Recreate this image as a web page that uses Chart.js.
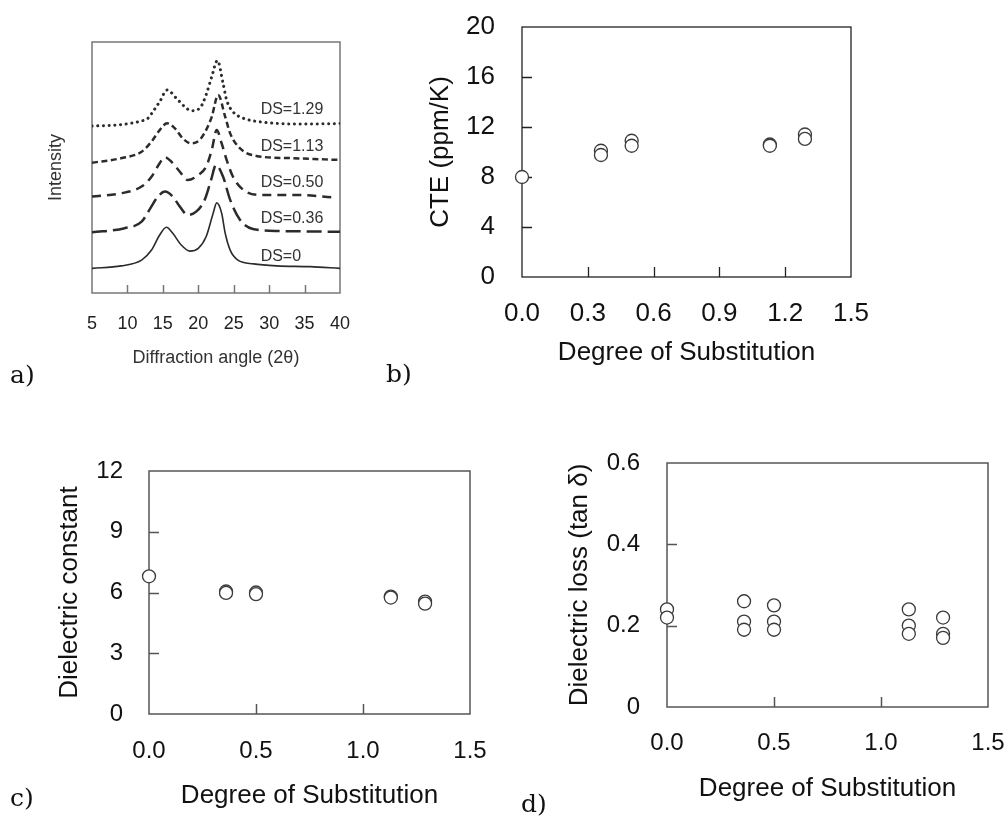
<!DOCTYPE html>
<html>
<head>
<meta charset="utf-8">
<script src="https://cdn.jsdelivr.net/npm/chart.js@4.4.1/dist/chart.umd.min.js"></script>
<style>
  html, body { margin: 0; padding: 0; background: #fff; }
  body { width: 1004px; height: 817px; position: relative; overflow: hidden; }
  canvas { position: absolute; }
  .tag { position: absolute; font-family: 'DejaVu Serif', serif; font-size: 25px; line-height: 25px; color: #111; }
</style>
</head>
<body>
<canvas id="xrd" width="370" height="380" style="left:0;top:0"></canvas>
<canvas id="cte" width="490" height="380" style="left:380px;top:0"></canvas>
<canvas id="dk" width="500" height="417" style="left:0;top:400px"></canvas>
<canvas id="loss" width="504" height="417" style="left:500px;top:400px"></canvas>
<div class="tag" style="left:10px;top:362px">a)</div>
<div class="tag" style="left:386px;top:361px">b)</div>
<div class="tag" style="left:10px;top:785px">c)</div>
<div class="tag" style="left:521px;top:791px">d)</div>
<script>
// XRD patterns (2θ, intensity in arbitrary units, offset per sample)
const dsNames = ['DS=1.29', 'DS=1.13', 'DS=0.50', 'DS=0.36', 'DS=0'];

const ds0Angle = [5, 9.1, 12.0, 13.4, 14.55, 15.5, 16.4, 17.6, 18.8, 20.0, 21.1, 22.1, 22.6, 23.3, 23.8, 24.5, 25.6, 27.8, 31.1, 35.8, 40];
const ds0Int = [9.8, 10.8, 13.1, 17.1, 23.1, 26.2, 23.8, 19.1, 16.7, 17.8, 22.4, 31.8, 35.9, 31.8, 23.8, 17.1, 13.1, 11.6, 10.8, 10.5, 9.8];

const ds036Angle = [5, 9.6, 12.0, 13.1, 14.3, 15.3, 16.4, 17.4, 18.5, 19.7, 20.9, 21.8, 22.5, 23.5, 24.5, 25.9, 27.7, 31.5, 40];
const ds036Int = [24.2, 25.8, 28.4, 33.1, 38.4, 40.4, 38.4, 34.4, 31.1, 32.4, 37.1, 45.0, 51.0, 46.3, 37.1, 29.1, 25.5, 24.7, 24.4];

const ds050Angle = [5, 9.1, 12.0, 13.4, 14.55, 15.3, 16.2, 17.4, 18.5, 20.0, 21.1, 21.9, 22.6, 23.3, 24.0, 24.9, 26.4, 29.2, 34.4, 38.9];
const ds050Int = [38.4, 39.7, 42.4, 46.3, 51.7, 54.1, 52.3, 48.3, 45.0, 47.0, 50.3, 57.0, 64.9, 59.6, 53.0, 46.3, 41.0, 39.0, 39.0, 38.1];

const ds113Angle = [5, 9.1, 12.0, 13.4, 14.55, 15.6, 16.7, 17.8, 19.0, 20.2, 21.1, 21.9, 22.8, 23.8, 24.5, 25.9, 28.2, 33.4, 40];
const ds113Int = [51.9, 53.7, 56.3, 60.3, 64.9, 67.6, 65.6, 61.6, 59.6, 61.0, 64.9, 70.2, 78.9, 70.2, 63.6, 57.6, 54.6, 53.7, 53.0];

const ds129Angle = [5, 9.1, 11.9, 12.9, 13.75, 14.55, 15.6, 16.9, 18.1, 19.0, 20.2, 21.1, 21.9, 22.7, 23.5, 24.0, 24.9, 26.4, 28.7, 34.4, 40];
const ds129Int = [66.5, 67.1, 68.5, 69.6, 72.9, 76.2, 80.9, 77.6, 74.2, 72.6, 73.6, 78.9, 86.2, 92.6, 83.5, 76.9, 72.2, 69.6, 68.2, 67.3, 67.5];

// CTE vs degree of substitution
const cteDS = [0, 0.36, 0.36, 0.50, 0.50, 1.13, 1.13, 1.29, 1.29];
const cteVal = [8.0, 10.1, 9.76, 10.9, 10.5, 10.6, 10.5, 11.4, 11.05];

// dielectric constant
const dkDS = [0, 0.36, 0.36, 0.50, 0.50, 1.13, 1.13, 1.29, 1.29];
const dkVal = [6.8, 6.05, 5.98, 6.0, 5.92, 5.8, 5.75, 5.55, 5.45];

// dielectric loss (tan δ)
const lossDS = [0, 0, 0.36, 0.36, 0.36, 0.50, 0.50, 0.50, 1.13, 1.13, 1.13, 1.29, 1.29, 1.29];
const lossVal = [0.24, 0.22, 0.26, 0.21, 0.19, 0.25, 0.21, 0.19, 0.24, 0.20, 0.18, 0.22, 0.18, 0.17];

// tick labels
const xrdTicks = [5, 10, 15, 20, 25, 30, 35, 40];
const degTicksB = [0, 0.3, 0.6, 0.9, 1.2, 1.5];
const degTicksCD = [0, 0.5, 1.0, 1.5];
const cteTicks = [0, 4, 8, 12, 16, 20];
const dkTicks = [0, 3, 6, 9, 12];
const lossTicks = [0, 0.2, 0.4, 0.6];

const SANS = "Arial, 'Liberation Sans', sans-serif";
const zip = (xs, ys) => xs.map((x, i) => ({ x, y: ys[i] }));

// closed frame plus short inward tick marks
const boxPlugin = {
  id: 'box',
  beforeDatasetsDraw(chart, args, opts) {
    const { ctx, chartArea: a, scales } = chart;
    ctx.save();
    ctx.strokeStyle = opts.color;
    ctx.lineWidth = opts.width;
    ctx.strokeRect(a.left, a.top, a.right - a.left, a.bottom - a.top);
    ctx.beginPath();
    (opts.xMarks || []).forEach(v => {
      const px = Math.round(scales.x.getPixelForValue(v)) + 0.5;
      ctx.moveTo(px, a.bottom);
      ctx.lineTo(px, a.bottom - opts.len);
    });
    (opts.yMarks || []).forEach(v => {
      const py = Math.round(scales.y.getPixelForValue(v)) + 0.5;
      ctx.moveTo(a.left, py);
      ctx.lineTo(a.left + opts.len, py);
    });
    ctx.stroke();
    ctx.restore();
  }
};

// series names written next to each XRD trace
const tagPlugin = {
  id: 'tags',
  afterDatasetsDraw(chart, args, opts) {
    if (!opts.names) return;
    const { ctx, scales } = chart;
    ctx.save();
    ctx.font = opts.font;
    ctx.fillStyle = opts.color;
    ctx.textBaseline = 'middle';
    opts.names.forEach((t, i) => {
      ctx.fillText(t, scales.x.getPixelForValue(opts.x), scales.y.getPixelForValue(opts.y[i]));
    });
    ctx.restore();
  }
};

Chart.register(boxPlugin, tagPlugin);

function axes(o) {
  return {
    x: {
      type: 'linear', min: o.xMin, max: o.xMax,
      grid: { display: false, drawTicks: false },
      border: { display: false },
      afterBuildTicks: s => { s.ticks = o.xTicks.map(v => ({ value: v })); },
      ticks: {
        padding: o.xPad, color: o.tickColor, maxRotation: 0, autoSkip: false,
        font: { family: SANS, size: o.xFont }, callback: o.xFmt
      },
      title: {
        display: true, text: o.xTitle, color: o.titleColor,
        font: { family: SANS, size: o.titleFont }, padding: { top: 0, bottom: o.xTitlePad }
      },
      afterFit: s => { s.height = o.xH; s.paddingLeft = 0; s.paddingRight = 0; }
    },
    y: {
      type: 'linear', min: o.yMin, max: o.yMax,
      grid: { display: false, drawTicks: false },
      border: { display: false },
      afterBuildTicks: s => { s.ticks = o.yTicks.map(v => ({ value: v })); },
      ticks: {
        display: o.yTickShow !== false, padding: o.yPad, color: o.tickColor,
        font: { family: SANS, size: o.yFont }, callback: o.yFmt
      },
      title: {
        display: true, text: o.yTitle, color: o.titleColor,
        font: { family: SANS, size: o.yTitleFont || o.titleFont }, padding: { top: o.yTitlePad, bottom: 0 }
      },
      afterFit: s => { s.width = o.yW; s.paddingTop = 0; s.paddingBottom = 0; }
    }
  };
}

const base = { responsive: false, animation: false, events: [] };
const noLegend = { legend: { display: false }, tooltip: { enabled: false } };

function circles(xs, ys) {
  return [{
    data: zip(xs, ys),
    pointStyle: 'circle', pointRadius: 6.5, pointBorderWidth: 1.3,
    pointBackgroundColor: '#fff', pointBorderColor: '#3a3a3a',
    showLine: false, clip: false
  }];
}

// a) XRD
const traceStyle = { showLine: true, pointRadius: 0, borderColor: '#2b2b2b', cubicInterpolationMode: 'monotone', borderWidth: 2.5, fill: false };
new Chart(document.getElementById('xrd'), {
  type: 'scatter',
  data: {
    datasets: [
      { ...traceStyle, data: zip(ds129Angle, ds129Int), borderDash: [0.1, 5.6], borderCapStyle: 'round', borderWidth: 3 },
      { ...traceStyle, data: zip(ds113Angle, ds113Int), borderDash: [6, 3.5] },
      { ...traceStyle, data: zip(ds050Angle, ds050Int), borderDash: [9, 6] },
      { ...traceStyle, data: zip(ds036Angle, ds036Int), borderDash: [15, 6] },
      { ...traceStyle, data: zip(ds0Angle, ds0Int), borderWidth: 1.6 }
    ]
  },
  options: {
    ...base,
    layout: { padding: { top: 42, right: 30, left: 0, bottom: 0 } },
    scales: axes({
      xMin: 5, xMax: 40, xTicks: xrdTicks, xPad: 20, xFont: 18, xFmt: v => String(v),
      xTitle: 'Diffraction angle (2θ)', xTitlePad: 11, xH: 87,
      yMin: 0, yMax: 100, yTicks: [], yTickShow: false, yFont: 18, yPad: 0,
      yTitle: 'Intensity', yTitlePad: 45, yW: 92,
      tickColor: '#222', titleColor: '#333', titleFont: 18
    }),
    plugins: {
      ...noLegend,
      box: { color: '#777', width: 1.5, len: 8, xMarks: [10, 15, 20, 25, 30, 35] },
      tags: { names: dsNames, x: 28.8, y: [72.9, 58.2, 43.8, 29.5, 14.7], font: '16px ' + SANS, color: '#333' }
    }
  }
});

// b) CTE
new Chart(document.getElementById('cte'), {
  type: 'scatter',
  data: { datasets: circles(cteDS, cteVal) },
  options: {
    ...base,
    layout: { padding: { top: 27, right: 19, left: 0, bottom: 0 } },
    scales: axes({
      xMin: 0, xMax: 1.5, xTicks: degTicksB, xPad: 21, xFont: 26, xFmt: v => v.toFixed(1),
      xTitle: 'Degree of Substitution', xTitlePad: 12, xH: 103,
      yMin: 0, yMax: 20, yTicks: cteTicks, yFont: 26, yPad: 27, yFmt: v => String(v),
      yTitle: 'CTE (ppm/K)', yTitlePad: 45, yW: 142,
      tickColor: '#111', titleColor: '#111', titleFont: 26
    }),
    plugins: {
      ...noLegend,
      box: { color: '#222', width: 1.3, len: 10, xMarks: [0.3, 0.6, 0.9, 1.2], yMarks: [4, 8, 12, 16] }
    }
  }
});

// c) dielectric constant
new Chart(document.getElementById('dk'), {
  type: 'scatter',
  data: { datasets: circles(dkDS, dkVal) },
  options: {
    ...base,
    layout: { padding: { top: 71, right: 30, left: 0, bottom: 0 } },
    scales: axes({
      xMin: 0, xMax: 1.5, xTicks: degTicksCD, xPad: 23, xFont: 24, xFmt: v => v.toFixed(1),
      xTitle: 'Degree of Substitution', xTitlePad: 6, xH: 103,
      yMin: 0, yMax: 12, yTicks: dkTicks, yFont: 24, yPad: 26, yFmt: v => String(v),
      yTitle: 'Dielectric constant', yTitlePad: 54, yW: 149,
      tickColor: '#111', titleColor: '#111', titleFont: 26
    }),
    plugins: {
      ...noLegend,
      box: { color: '#555', width: 1.5, len: 10, xMarks: [0.5, 1.0], yMarks: [3, 6, 9] }
    }
  }
});

// d) dielectric loss
new Chart(document.getElementById('loss'), {
  type: 'scatter',
  data: { datasets: circles(lossDS, lossVal) },
  options: {
    ...base,
    layout: { padding: { top: 63, right: 16, left: 0, bottom: 0 } },
    scales: axes({
      xMin: 0, xMax: 1.5, xTicks: degTicksCD, xPad: 22, xFont: 24, xFmt: v => v.toFixed(1),
      xTitle: 'Degree of Substitution', xTitlePad: 13, xH: 110,
      yMin: 0, yMax: 0.6, yTicks: lossTicks, yFont: 24, yPad: 27, yFmt: v => (v === 0 ? '0' : v.toFixed(1)),
      yTitle: 'Dielectric loss (tan δ)', yTitlePad: 64, yW: 167,
      tickColor: '#111', titleColor: '#111', titleFont: 26
    }),
    plugins: {
      ...noLegend,
      box: { color: '#555', width: 1.5, len: 10, xMarks: [0.5, 1.0], yMarks: [0.2, 0.4] }
    }
  }
});
</script>
</body>
</html>
